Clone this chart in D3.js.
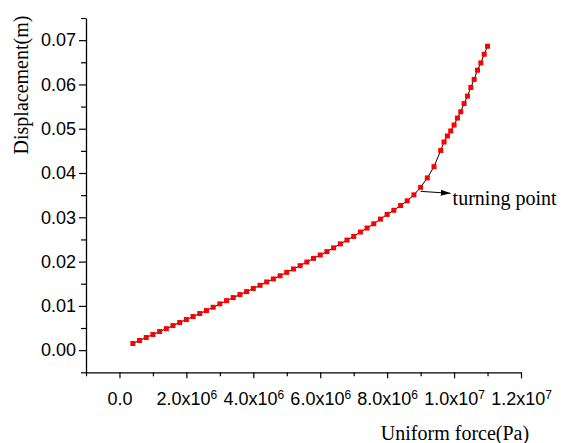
<!DOCTYPE html>
<html>
<head>
<meta charset="utf-8">
<script src="https://cdn.jsdelivr.net/npm/d3@7"></script>
<style>
  body { margin: 0; background: #fff; }
</style>
</head>
<body>
<script>
// Width and height
var w = 561;
var h = 443;

// Data
var forcePa = [0.4e6, 0.6e6, 0.8e6, 1.0e6, 1.2e6, 1.4e6, 1.6e6, 1.8e6, 2.0e6, 2.2e6,
               2.4e6, 2.6e6, 2.8e6, 3.0e6, 3.2e6, 3.4e6, 3.6e6, 3.8e6, 4.0e6, 4.2e6,
               4.4e6, 4.6e6, 4.8e6, 5.0e6, 5.2e6, 5.4e6, 5.6e6, 5.8e6, 6.0e6, 6.2e6,
               6.4e6, 6.6e6, 6.8e6, 7.0e6, 7.2e6, 7.4e6, 7.6e6, 7.8e6, 8.0e6, 8.2e6,
               8.4e6, 8.6e6, 8.8e6, 9.0e6, 9.2e6, 9.4e6, 9.6e6, 9.7e6, 9.8e6, 9.9e6,
               10.0e6, 10.1e6, 10.2e6, 10.3e6, 10.4e6, 10.5e6, 10.6e6, 10.7e6, 10.8e6, 10.9e6,
               11.0e6];
var displacement = [0.00151, 0.00218, 0.00286, 0.00354, 0.00421, 0.00485, 0.00556, 0.00624, 0.00691, 0.00759,
                    0.00827, 0.00894, 0.00968, 0.01045, 0.01118, 0.01187, 0.01255, 0.01322, 0.01392, 0.01464,
                    0.01540, 0.01608, 0.01680, 0.01757, 0.01833, 0.01908, 0.01990, 0.02072, 0.02149, 0.02225,
                    0.02310, 0.02400, 0.02486, 0.02568, 0.02667, 0.02757, 0.02854, 0.02959, 0.03065, 0.03158,
                    0.03266, 0.03372, 0.03507, 0.03676, 0.03890, 0.04144, 0.04509, 0.04700, 0.04836, 0.04950,
                    0.05083, 0.05241, 0.05383, 0.05568, 0.05736, 0.05932, 0.06113, 0.06322, 0.06486, 0.06682,
                    0.06863];

// Tick labels
var xTickValues = [0, 2e6, 4e6, 6e6, 8e6, 1e7, 1.2e7];
var xTickBase = ["0.0", "2.0x10", "4.0x10", "6.0x10", "8.0x10", "1.0x10", "1.2x10"];
var xTickExp = ["", "6", "6", "6", "6", "7", "7"];
var yTickValues = [0, 0.01, 0.02, 0.03, 0.04, 0.05, 0.06, 0.07];
var yTickLabels = ["0.00", "0.01", "0.02", "0.03", "0.04", "0.05", "0.06", "0.07"];
var turningIndex = 43;   // point at 9.0x10^6 Pa

var points = forcePa.map(function(d, i) { return [d, displacement[i]]; });

// Scales
var x = d3.scaleLinear().domain([-1e6, 1.2e7]).range([86, 521]);
var y = d3.scaleLinear().domain([-0.005, 0.075]).range([372.3, 18]);

// Create SVG element
var svg = d3.select("body")
            .append("svg")
            .attr("width", w)
            .attr("height", h);

// Minor ticks
var xMinor = d3.range(-1e6, 1.2e7 + 1, 1e6).filter(function(d) { return xTickValues.indexOf(d) < 0; });
var yMinor = d3.range(-0.005, 0.0751, 0.01);

svg.append("g")
   .attr("transform", "translate(0," + y.range()[0] + ")")
   .call(d3.axisBottom(x).tickValues(xMinor).tickSize(4).tickFormat("").tickSizeOuter(0))
   .call(function(g) { g.select(".domain").remove(); })
   .selectAll("line").attr("stroke-width", 1.2);

svg.append("g")
   .attr("transform", "translate(" + x.range()[0] + ",0)")
   .call(d3.axisLeft(y).tickValues(yMinor).tickSize(5).tickFormat("").tickSizeOuter(0))
   .call(function(g) { g.select(".domain").remove(); })
   .selectAll("line").attr("stroke-width", 1.2);

// X axis
var xAxis = svg.append("g")
   .attr("transform", "translate(0," + y.range()[0] + ")")
   .call(d3.axisBottom(x).tickValues(xTickValues).tickSize(6).tickSizeOuter(0).tickPadding(8)
           .tickFormat(function(d, i) { return xTickBase[i]; }));

xAxis.select(".domain").attr("stroke-width", 1.3);
xAxis.selectAll("line").attr("stroke-width", 1.2);
xAxis.selectAll("text")
     .attr("font-family", "'Liberation Sans', Arial, sans-serif")
     .attr("font-size", "18px")
     .attr("fill", "#000")
     .attr("dy", "1.05em")
     .each(function(d, i) {
        if (xTickExp[i]) {
          d3.select(this).append("tspan")
            .attr("font-size", "12px")
            .attr("dy", "-0.55em")
            .text(xTickExp[i]);
        }
     });

// Y axis
var yAxis = svg.append("g")
   .attr("transform", "translate(" + x.range()[0] + ",0)")
   .call(d3.axisLeft(y).tickValues(yTickValues).tickSize(7).tickSizeOuter(0).tickPadding(3)
           .tickFormat(function(d, i) { return yTickLabels[i]; }));

yAxis.select(".domain").attr("stroke-width", 1.3);
yAxis.selectAll("line").attr("stroke-width", 1.2);
yAxis.selectAll("text")
     .attr("font-family", "'Liberation Sans', Arial, sans-serif")
     .attr("font-size", "18px")
     .attr("fill", "#000");

// Line
svg.append("path")
   .datum(points)
   .attr("fill", "none")
   .attr("stroke", "#000")
   .attr("stroke-width", 1)
   .attr("d", d3.line().x(function(d) { return x(d[0]); }).y(function(d) { return y(d[1]); }));

// Markers
svg.selectAll("rect.pt")
   .data(points)
   .enter()
   .append("rect")
   .attr("class", "pt")
   .attr("x", function(d) { return x(d[0]) - 2.5; })
   .attr("y", function(d) { return y(d[1]) - 2.5; })
   .attr("width", 5)
   .attr("height", 5)
   .attr("fill", "#ff0000");

// Turning point annotation
svg.append("defs").append("marker")
   .attr("id", "arrow")
   .attr("viewBox", "0 0 10 6")
   .attr("refX", 10)
   .attr("refY", 3)
   .attr("markerWidth", 10)
   .attr("markerHeight", 6)
   .attr("markerUnits", "userSpaceOnUse")
   .attr("orient", "auto")
   .append("path")
   .attr("d", "M0,0 L10,3 L0,6 Z")
   .attr("fill", "#000");

var tx = x(points[turningIndex][0]);
var ty = y(points[turningIndex][1]);

svg.append("line")
   .attr("x1", tx)
   .attr("y1", ty + 4)
   .attr("x2", tx + 30)
   .attr("y2", ty + 6)
   .attr("stroke", "#000")
   .attr("stroke-width", 1)
   .attr("marker-end", "url(#arrow)");

svg.append("text")
   .attr("x", tx + 32)
   .attr("y", ty + 18)
   .attr("font-family", "'Liberation Serif', 'Times New Roman', serif")
   .attr("font-size", "20px")
   .attr("fill", "#000")
   .text("turning point");

// Axis titles
svg.append("text")
   .attr("transform", "translate(28,85) rotate(-90)")
   .attr("text-anchor", "middle")
   .attr("font-family", "'Liberation Serif', 'Times New Roman', serif")
   .attr("font-size", "20px")
   .attr("fill", "#000")
   .text("Displacement(m)");

svg.append("text")
   .attr("x", 455)
   .attr("y", 440)
   .attr("text-anchor", "middle")
   .attr("font-family", "'Liberation Serif', 'Times New Roman', serif")
   .attr("font-size", "20px")
   .attr("fill", "#000")
   .text("Uniform force(Pa)");
</script>
</body>
</html>
